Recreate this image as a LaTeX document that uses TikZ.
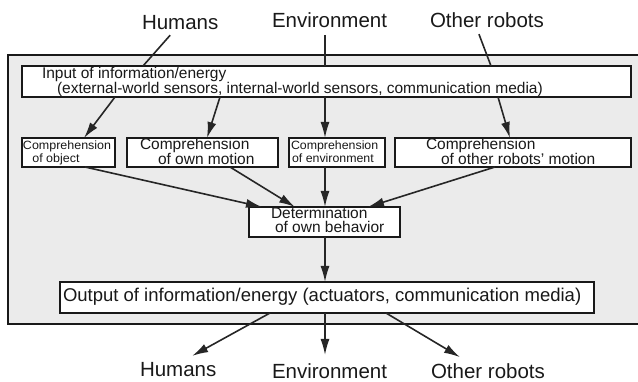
\documentclass[tikz,border=0pt]{standalone}
\usepackage{fontspec}
\setmainfont{Liberation Sans}
\usetikzlibrary{arrows.meta}
\begin{document}
\begin{tikzpicture}[x=1pt,y=-1pt,
  box/.style={draw=black!90,line width=1.5pt,fill=white,inner sep=0pt,outer sep=0pt,anchor=north west},
  txt/.style={inner sep=0pt,outer sep=0pt,anchor=base west,text=black!90},
  two/.style={inner sep=0pt,outer sep=0pt,anchor=base west,text=black!90,align=left},
  lbl/.style={inner sep=0pt,outer sep=0pt,anchor=base west,text=black!90,font=\fontsize{20.5}{24}\selectfont},
  arr/.style={draw=black!85,line width=1.6pt,-{Latex[length=16pt,width=9pt]}},
  ln/.style={draw=black!85,line width=1.6pt}]
\useasboundingbox (0,0) rectangle (638,382);
% outer frame
\path[fill=black!8] (8,55) rectangle (640,324);
\draw[line width=1.8pt,black!90] (640,55) -- (8,55) -- (8,324) -- (640,324);
% boxes
\node[box,minimum width=609pt,minimum height=31pt] (inp) at (22,66) {};
\node[box,minimum width=93pt,minimum height=29pt] (cobj) at (22,138) {};
\node[box,minimum width=151pt,minimum height=29pt] (cown) at (127,138) {};
\node[box,minimum width=96pt,minimum height=29pt] (cenv) at (289,138) {};
\node[box,minimum width=236pt,minimum height=29pt] (coth) at (395,138) {};
\node[box,minimum width=151pt,minimum height=30pt] (det) at (249,207) {};
\node[box,minimum width=534pt,minimum height=31pt] (out) at (60,282) {};
% texts in boxes (base = baseline of last line)
\node[two,font=\fontsize{15.5}{13}\selectfont] (inpt) at (42,93.5)
  {Input of information/energy\\\hspace*{15pt}(external-world sensors, internal-world sensors, communication media)};
\node[two,font=\fontsize{15.5}{13}\selectfont] (cownt) at (140,164.5)
  {Comprehension\\\hspace*{18pt}of own motion};
\node[two,font=\fontsize{15.5}{13}\selectfont] (cotht) at (426,164.5)
  {Comprehension\\\hspace*{15pt}of other robots' motion};
\node[two,font=\fontsize{15.5}{13.5}\selectfont] (dett) at (271,232.5)
  {Determination\\\hspace*{4pt}of own behavior};
\node[two,font=\fontsize{12}{13}\selectfont,xscale=1.04] (cobjt) at (23,163)
  {Comprehension\\\hspace*{9pt}of object};
\node[two,font=\fontsize{12}{13}\selectfont,xscale=1.03] (cenvt) at (291,163)
  {Comprehension\\\hspace*{1pt}of environment};
\node[txt,font=\fontsize{18.5}{20}\selectfont] (outt) at (63,302) {Output of information/energy (actuators, communication media)};
% outer labels
\node[lbl] (hum) at (142,30) {Humans};
\node[lbl] (env) at (272,28) {Environment};
\node[lbl] (oth) at (430,28) {Other robots};
\node[lbl] (hum2) at (140,377) {Humans};
\node[lbl] (env2) at (272,379) {Environment};
\node[lbl] (oth2) at (431,379) {Other robots};
% connectors
\draw[ln] ([shift={(-10pt,-5pt)}]hum.south) -- ([xshift=121pt]inp.north west);
\draw[arr] ([xshift=93pt]inp.south west) -- ([xshift=62pt]cobj.north west);
\draw[arr] ([xshift=198pt]inp.south west) -- ([xshift=80pt]cown.north west);
\draw[ln] ([xshift=303pt,yshift=31pt]inp.north west) -- ([xshift=303pt]inp.north west);
\draw[arr] ([xshift=303pt]inp.south west) -- ([xshift=36pt]cenv.north west);
\draw[ln] ([shift={(-8pt,-6pt)}]oth.south) -- ([xshift=469pt]inp.north west);
\draw[arr] ([xshift=476pt]inp.south west) -- ([xshift=115pt]coth.north west);
\draw[arr] ([xshift=63pt]cobj.south west) -- ([xshift=13pt]det.north west);
\draw[arr] ([xshift=103pt]cown.south west) -- ([xshift=46pt]det.north west);
\draw[arr] ([xshift=36pt]cenv.south west) -- ([xshift=76pt]det.north west);
\draw[arr] ([xshift=100pt]coth.south west) -- ([xshift=119pt]det.north west);
\draw[arr] ([xshift=76pt]det.south west) -- ([xshift=265pt]out.north west);
\draw[arr] ([xshift=210pt]out.south west) -- ([shift={(14pt,7pt)}]hum2.north);
\draw[arr] ([xshift=265pt]out.south west) -- ([xshift=265pt,yshift=-42pt]out.south west);
\draw[arr] ([xshift=326pt]out.south west) -- ([shift={(-28pt,7pt)}]oth2.north);
\end{tikzpicture}
\end{document}
